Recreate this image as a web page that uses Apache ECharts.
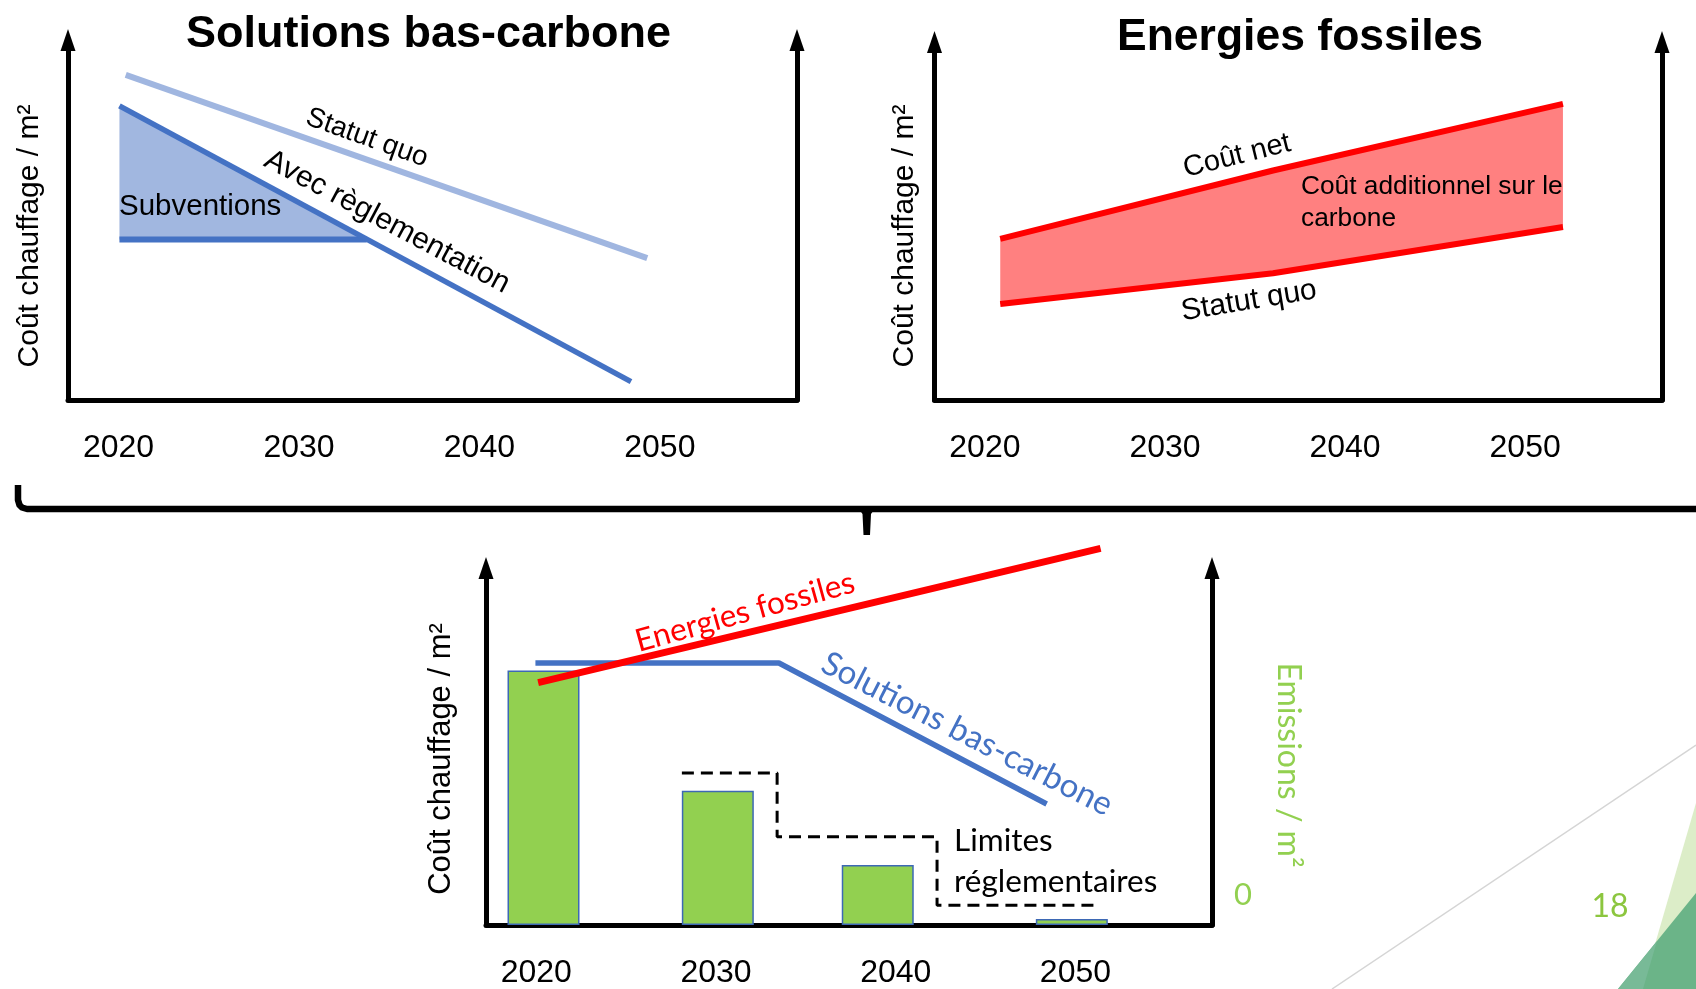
<!DOCTYPE html>
<html>
<head>
<meta charset="utf-8">
<script src="https://cdn.jsdelivr.net/npm/echarts@6/dist/echarts.min.js"></script>
<style>
  html, body { margin: 0; padding: 0; background: #ffffff; }
  #chart { width: 1696px; height: 989px; }
</style>
</head>
<body>
<div id="chart"></div>
<script>
// ---- Data (arbitrary cost / emission units, x in years) ----
const years = [2020, 2030, 2040, 2050];

// Panel "Solutions bas-carbone"
const bcStatutQuo = [[2020.4, 90.3], [2049.3, 39.4]];
const bcReglementation = [[2020.05, 81.7], [2048.4, 5.1]];
const bcSubventionFloor = [[2020.05, 44.6], [2033.75, 44.6]];

// Panel "Energies fossiles"
const fosYears = [2020.85, 2036.0, 2052.1];
const fosStatutQuo = [26.8, 35.4, 48.3];
const fosCoutNet = [45.0, 64.1, 82.7];

// Combined panel
const emisYears = [2020.4, 2030.1, 2039.0, 2049.8];
const emissions = [71.3, 37.6, 16.8, 1.7];
const limitYears = [2028.1, 2033.4, 2042.3, 2051.1];
const limits = [42.6, 24.7, 5.5, 5.5];
const bcCost = [[2019.95, 73.4], [2033.5, 73.4], [2048.4, 33.9]];
const fosCost = [[2020.1, 67.9], [2051.4, 105.5]];

// ---- Styling helpers ----
const ARIAL = '"Liberation Sans", Arial, sans-serif';
const CALI = 'Lato, "Open Sans", sans-serif';
const BLUE = '#4472C4';
const LIGHT_BLUE = '#A0B6E0';
const RED = '#FF0000';
const GREEN = '#92D050';

const grids = [
  { left: 68, top: 40, width: 729, height: 360 },
  { left: 934.5, top: 42, width: 727.5, height: 358 },
  { left: 486, top: 568, width: 726, height: 357 }
];

function xAxisFor(gridIndex) {
  return {
    type: 'value', gridIndex, min: 2017.2, max: 2057.6,
    axisLine: { show: true, onZero: false, lineStyle: { color: '#000', width: 5 } },
    axisTick: { show: false },
    splitLine: { show: false },
    axisLabel: {
      customValues: years, margin: 32, color: '#000',
      fontFamily: ARIAL, fontSize: 32, formatter: v => String(v)
    }
  };
}
function yAxisFor(gridIndex, position) {
  return {
    type: 'value', gridIndex, position, min: 0, max: 100,
    axisLine: {
      show: true, onZero: false, symbol: ['none', 'triangle'], symbolSize: [15, 22],
      lineStyle: { color: '#000', width: 5 }
    },
    axisTick: { show: false }, axisLabel: { show: false }, splitLine: { show: false }
  };
}

function text(str, x, y, opt) {
  opt = opt || {};
  return {
    type: 'text', x, y, rotation: (opt.rot || 0) * Math.PI / 180, z: 20,
    style: {
      text: str, x: 0, y: 0,
      font: (opt.weight || 'normal') + ' ' + (opt.size || 28) + 'px ' + (opt.family || ARIAL),
      fill: opt.color || '#000',
      align: opt.align || 'center', verticalAlign: 'middle',
      textAlign: opt.align || 'center', textVerticalAlign: 'middle'
    }
  };
}

const line = (name, data, color, width, extra) => Object.assign({
  type: 'line', name, data, showSymbol: false, symbol: 'none',
  lineStyle: { color, width, cap: 'butt' }, itemStyle: { color },
  silent: true, animation: false
}, extra || {});

const option = {
  animation: false,
  backgroundColor: '#ffffff',
  grid: grids.map(g => Object.assign({ outerBoundsMode: 'none', containLabel: false }, g)),
  xAxis: [xAxisFor(0), xAxisFor(1), xAxisFor(2)],
  yAxis: [
    yAxisFor(0, 'left'), yAxisFor(0, 'right'),
    yAxisFor(1, 'left'), yAxisFor(1, 'right'),
    yAxisFor(2, 'left'), yAxisFor(2, 'right')
  ],
  series: [
    // Solutions bas-carbone: subsidy wedge between the regulated cost and its floor
    line('Subventions', [bcReglementation[0], bcSubventionFloor[1]], BLUE, 0, {
      xAxisIndex: 0, yAxisIndex: 0,
      lineStyle: { width: 0, opacity: 0 },
      areaStyle: { color: '#A1B7E0', opacity: 1, origin: bcSubventionFloor[0][1] }
    }),
    line('Plancher subventions', bcSubventionFloor, BLUE, 6, { xAxisIndex: 0, yAxisIndex: 0 }),
    line('Statut quo', bcStatutQuo, LIGHT_BLUE, 6, { xAxisIndex: 0, yAxisIndex: 0 }),
    line('Avec règlementation', bcReglementation, BLUE, 5.5, { xAxisIndex: 0, yAxisIndex: 0 }),

    // Energies fossiles: carbon surcharge band between status-quo and net cost
    {
      type: 'custom', name: 'Coût additionnel', xAxisIndex: 1, yAxisIndex: 2, silent: true, z: 1,
      data: fosYears.map((x, i) => [x, fosStatutQuo[i], fosCoutNet[i]]),
      encode: { x: 0, y: [1, 2] },
      renderItem: (params, api) => {
        if (params.dataIndex !== 0) return null;
        const upper = fosYears.map((x, i) => api.coord([x, fosCoutNet[i]]));
        const lower = fosYears.map((x, i) => api.coord([x, fosStatutQuo[i]])).reverse();
        return { type: 'polygon', shape: { points: upper.concat(lower) }, style: { fill: '#FF8080' } };
      }
    },
    line('Statut quo fossile', fosYears.map((x, i) => [x, fosStatutQuo[i]]), RED, 6, { xAxisIndex: 1, yAxisIndex: 2 }),
    line('Coût net', fosYears.map((x, i) => [x, fosCoutNet[i]]), RED, 6, { xAxisIndex: 1, yAxisIndex: 2 }),

    // Combined view
    {
      type: 'bar', name: 'Emissions', xAxisIndex: 2, yAxisIndex: 5,
      data: emisYears.map((x, i) => [x, emissions[i]]),
      barWidth: 72, silent: true,
      itemStyle: { color: GREEN, borderColor: '#3D68B5', borderWidth: 1.5 }
    },
    line('Limites réglementaires', limitYears.map((x, i) => [x, limits[i]]), '#000', 3, {
      xAxisIndex: 2, yAxisIndex: 5, step: 'end',
      lineStyle: { color: '#000', width: 3, type: [12, 7] }
    }),
    line('Solutions bas-carbone', bcCost, BLUE, 5.5, { xAxisIndex: 2, yAxisIndex: 4 }),
    line('Energies fossiles', fosCost, RED, 7, { xAxisIndex: 2, yAxisIndex: 4, clip: false })
  ],
  graphic: [
    // slide decoration, bottom right
    { type: 'polyline', z: 0, shape: { points: [[1332, 989], [1696, 745]] },
      style: { stroke: '#D5D5D5', lineWidth: 1.5, fill: null } },
    { type: 'polygon', z: 0, shape: { points: [[1696, 803], [1642, 989], [1696, 989]] },
      style: { fill: '#DCEDC8' } },
    { type: 'polygon', z: 1, shape: { points: [[1696, 893], [1618, 989], [1696, 989]] },
      style: { fill: '#6BB488' } },
    { type: 'polygon', z: 1, shape: { points: [[1618, 989], [1657, 941], [1643, 989]] },
      style: { fill: '#78BA97' } },
    text('18', 1610, 907, { size: 32, family: CALI, color: '#8CC63F' }),

    // brace joining the two upper panels to the combined one
    { type: 'polyline', z: 5,
      shape: { points: [[18, 485], [18, 500], [19.5, 505], [22, 507.5], [27, 509], [1700, 509]] },
      style: { stroke: '#000', lineWidth: 6.5, fill: null, lineJoin: 'round' } },
    { type: 'polygon', z: 5,
      shape: { points: [[855, 509], [860, 510.5], [862.5, 514], [863.5, 535], [870, 535], [871, 514], [873.5, 510.5], [879, 509]] },
      style: { fill: '#000' } },

    // titles
    text('Solutions bas-carbone', 428.5, 35, { size: 45, weight: 'bold' }),
    text('Energies fossiles', 1300, 38, { size: 44.5, weight: 'bold' }),

    // axis names
    text('Coût chauffage / m²', 30, 236, { size: 30, rot: 90 }),
    text('Coût chauffage / m²', 905, 236, { size: 30, rot: 90 }),
    text('Coût chauffage / m²', 441, 759, { size: 31, rot: 90 }),
    text('Emissions / m²', 1288, 765, { size: 32, rot: -90, family: CALI, color: GREEN }),
    text('0', 1243, 895, { size: 31, family: CALI, color: GREEN }),

    // panel annotations
    text('Statut quo', 367, 138, { size: 28, rot: -19.7 }),
    text('Avec règlementation', 387, 222, { size: 30, rot: -28 }),
    text('Subventions', 119, 207, { size: 29.5, align: 'left' }),
    text('Coût net', 1237, 156, { size: 29, rot: 14 }),
    text('Statut quo', 1249, 301, { size: 30, rot: 9.3 }),
    text('Coût additionnel sur le', 1301, 187, { size: 26.3, align: 'left' }),
    text('carbone', 1301, 219, { size: 26.3, align: 'left' }),
    text('Energies fossiles', 745, 612, { size: 31.5, rot: 15.5, family: CALI, color: RED }),
    text('Solutions bas-carbone', 967, 734, { size: 33, rot: -27, family: CALI, color: BLUE }),
    text('Limites', 954, 841, { size: 31.5, align: 'left', family: CALI }),
    text('réglementaires', 954, 882, { size: 31.5, align: 'left', family: CALI })
  ]
};

const chart = echarts.init(document.getElementById('chart'), null, { renderer: 'canvas' });
chart.setOption(option);
</script>
</body>
</html>
